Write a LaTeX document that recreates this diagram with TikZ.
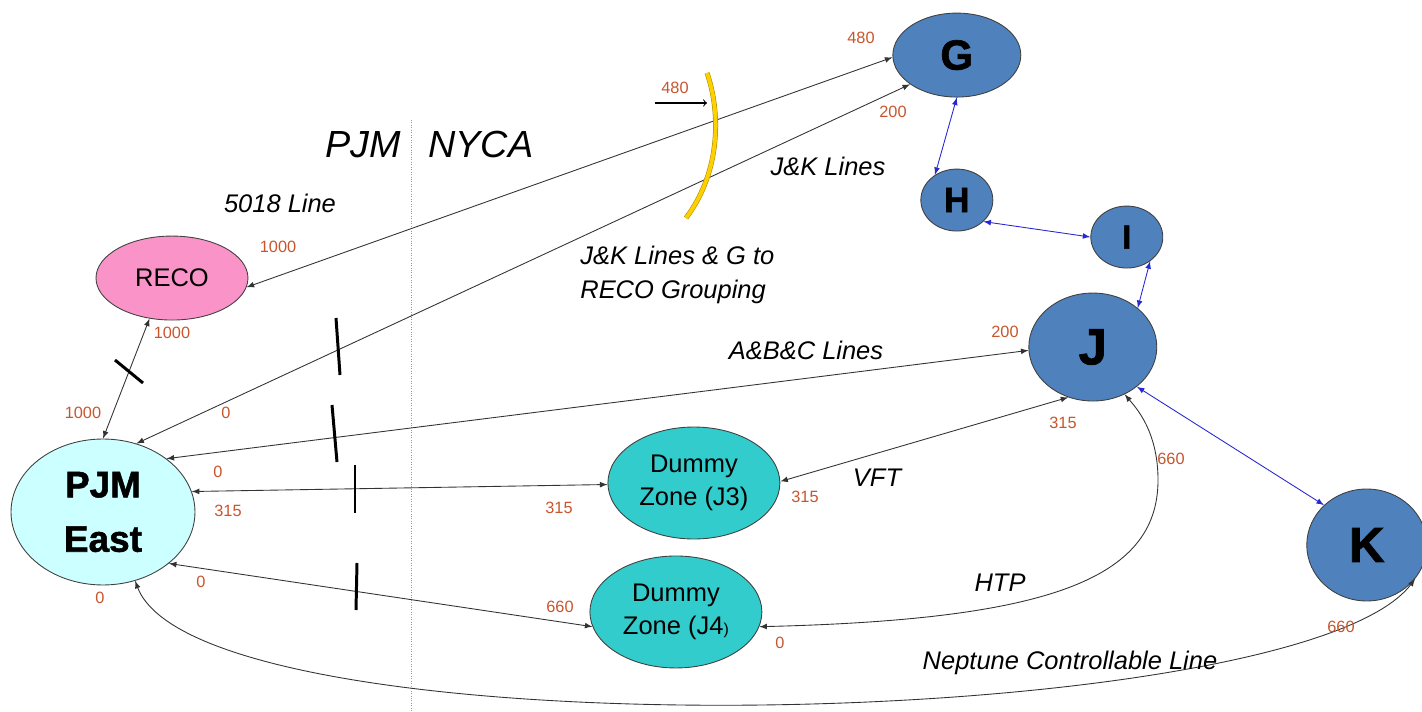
\documentclass[tikz,border=0pt]{standalone}
\usepackage{fontspec}
\setmainfont{Liberation Sans}
\newfontfamily\heavyfont[FakeBold=1.5]{Liberation Sans Bold}
\usepackage{tikz}
\usetikzlibrary{arrows, positioning, shapes.geometric}
\definecolor{recopink}{RGB}{250,148,200}
\definecolor{pjmcyan}{RGB}{204,255,255}
\definecolor{zoneblue}{RGB}{79,129,189}
\definecolor{dummyteal}{RGB}{51,204,204}
\definecolor{flowred}{RGB}{200,85,45}
\definecolor{linkblue}{RGB}{40,40,210}
\definecolor{cutgold}{RGB}{255,208,0}

\begin{document}
\begin{tikzpicture}[x=0.02cm, y=-0.02cm, on grid, >=latex,
    zone/.style={ellipse, draw=black!75, line width=0.5pt, inner sep=0pt},
    nyzone/.style={zone, fill=zoneblue, font=\heavyfont\fontsize{#1}{#1}\selectfont},
    dummy/.style={zone, fill=dummyteal, align=center, minimum width=3.44cm, minimum height=2.24cm,
      font=\fontsize{14.5}{19}\selectfont},
    flow/.style={draw=black!80, line width=0.5pt, <->},
    link/.style={draw=linkblue, line width=0.5pt, <->},
    num/.style={text=flowred, font=\fontsize{9.3}{9.3}\selectfont},
    tag/.style={font=\fontsize{14.5}{19}\selectfont\itshape},
    side/.style={font=\fontsize{21.5}{21.5}\selectfont\itshape, inner sep=0pt},
    cutmark/.style={line width=1.7pt}]
  \useasboundingbox (0,0) rectangle (1422,712);

  % zones
  \node[zone, fill=pjmcyan, minimum width=3.68cm, minimum height=2.92cm, align=center,
    font=\heavyfont\fontsize{21}{31}\selectfont] (pjm) at (103,512) {PJM\\East};
  \node[zone, fill=recopink, minimum width=3.04cm, minimum height=1.68cm,
    font=\fontsize{14.5}{14.5}\selectfont, above right=4.68cm and 1.38cm of pjm] (reco) {RECO};
  \node[dummy, above right=0.58cm and 11.82cm of pjm] (j3) {Dummy\\Zone (J3)};
  \node[dummy, below left=2.58cm and 0.36cm of j3] (j4) {Dummy\\Zone (J4{\fontsize{9}{9}\selectfont)}};
  \node[nyzone=29, minimum width=2.56cm, minimum height=2.16cm, above right=2.72cm and 7.98cm of j3] (j) {J};
  \node[nyzone=19, minimum width=1.44cm, minimum height=1.24cm, above right=2.2cm and 0.68cm of j] (i) {I};
  \node[nyzone=20, minimum width=1.44cm, minimum height=1.24cm, above left=0.74cm and 3.4cm of i] (h) {H};
  \node[nyzone=24, minimum width=2.56cm, minimum height=1.68cm, above=2.9cm of h] (g) {G};
  \node[nyzone=28, minimum width=2.4cm, minimum height=2.24cm, below right=3.96cm and 5.48cm of j] (k) {K};

  % border
  \draw[black!40, densely dotted] (411,120) -- (411,712);
  \node[side, anchor=east] (pjmside) at (401,145) {PJM};
  \node[side, anchor=west] (nycaside) at (428,145) {NYCA};

  % ties
  \draw[flow] (pjm.90) -- (reco.241);
  \draw[flow] (reco.-7) -- (g.182);
  \draw[flow] (pjm.64) -- (g.212);
  \draw[flow] (pjm.40) -- (j.183);
  \draw[flow] (pjm.13) -- (j3.181);
  \draw[flow] (j3.1) -- (j.244);
  \draw[flow] (pjm.-38) -- (j4.190);
  \coordinate (htpbend) at (1158,480);
  \draw[flow] (j4.-10) .. controls +(287,-7) and +(0,100) .. (htpbend)
    .. controls +(0,-50) and +(10,12) .. (j.304);
  \draw[flow] (pjm.295) .. controls +(66,175) and +(-117,155) .. (k.325);

  \draw[link] (g.270) -- (h.131);
  \draw[link] (h.-39) -- (i.180);
  \draw[link] (i.-46) -- (j.41);
  \draw[link] (j.-42) -- (k.137);

  % cut marks
  \draw[cutmark] (115,360) -- (143,383);
  \draw[cutmark] (336,318) -- (340,375);
  \draw[cutmark] (332,405) -- (337,462);
  \draw[cutmark] (355,465) -- (355,513);
  \draw[cutmark] (357,563) -- (356,610);

  % J&K limit
  \draw[draw=black!35!cutgold, double=cutgold, double distance=2.2pt, line width=0.3pt]
    (707,73) .. controls (720,110) and (722,170) .. (686,218);
  \coordinate (cuttail) at (655,103);
  \coordinate (cuthead) at (707,103);
  \draw[-to, line width=0.6pt] (cuttail) -- (cuthead);

  % line names
  \node[tag] (l5018) at (280,203) {5018 Line};
  \node[tag] (ljk) at (828,166) {J\&K Lines};
  \node[tag, align=left, anchor=west, inner sep=0pt] (lgroup) at (580,275) {J\&K Lines \& G to\\RECO Grouping};
  \node[tag] (labc) at (806,350) {A\&B\&C Lines};
  \node[tag] (lvft) at (877,478) {VFT};
  \node[tag] (lhtp) at (1000,583) {HTP};
  \node[tag] (lnep) at (1070,663) {Neptune Controllable Line};

  % limits
  \node[num] at (861,38) {480};
  \node[num] at (675,88) {480};
  \node[num] at (893,112) {200};
  \node[num] at (278,247) {1000};
  \node[num] at (172,333) {1000};
  \node[num] at (83,413) {1000};
  \node[num] at (226,413) {0};
  \node[num] at (218,472) {0};
  \node[num] at (228,511) {315};
  \node[num] at (201,582) {0};
  \node[num] at (100,598) {0};
  \node[num] at (559,508) {315};
  \node[num] at (805,497) {315};
  \node[num] at (560,607) {660};
  \node[num] at (780,643) {0};
  \node[num] at (1005,332) {200};
  \node[num] at (1063,423) {315};
  \node[num] at (1171,459) {660};
  \node[num] at (1341,627) {660};
\end{tikzpicture}
\end{document}
